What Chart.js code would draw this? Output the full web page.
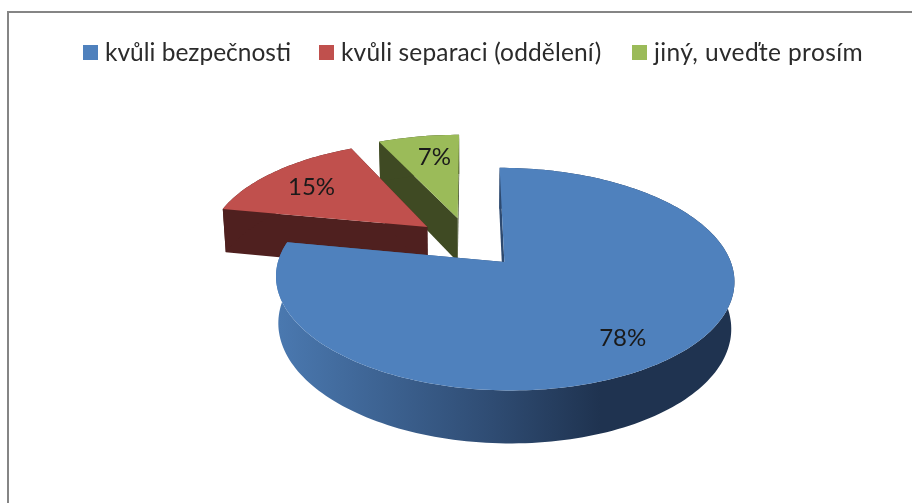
<!DOCTYPE html>
<html>
<head>
<meta charset="utf-8">
<script src="https://cdn.jsdelivr.net/npm/chart.js@4"></script>
<style>
  html, body { margin: 0; padding: 0; background: #fff; }
  #wrap { position: relative; width: 912px; height: 503px; overflow: hidden; filter: blur(0.4px); }
  #frame { position: absolute; left: 7px; top: 11px; width: 910px; height: 500px; border-left: 2px solid #858585; border-top: 2px solid #858585; }
  #legend { font: 24.5px Lato, sans-serif; color: #2b2b2b; }
  #legend .item { position: absolute; top: 37px; display: flex; align-items: center; line-height: 30px; white-space: nowrap; }
  #legend i { display: block; width: 15px; height: 15px; margin-right: 7px; }
  canvas { position: absolute; left: 0; top: 0; }
</style>
</head>
<body>
<div id="wrap">
  <canvas id="pie" width="912" height="503"></canvas>
  <div id="frame"></div>
  <div id="legend"></div>
</div>
<script>
  const categories = ['kvůli bezpečnosti', 'kvůli separaci (oddělení)', 'jiný, uveďte prosím'];
  const values = [78, 15, 7];
  const topColors = ['#4F81BD', '#C0504D', '#9BBB59'];
  const sideColors = ['#1F3350', '#4F201F', '#3F4A23'];

  // tilted pie: flat unit-circle coords -> screen, with perspective
  const CX = 469, CY = 242, RX = 220, RY = 102.6, PERSP = 0.15, DEPTH = 45, SHRINK = 0.012, EXPLODE = 0.245;
  // legend x and tracking, Lato runs narrower than the original font on the last item
  const legendX = [83, 319, 632];
  const legendTrack = [0, 0.15, 0.37];
  const labelShift = [[-4, 7], [1, 3], [7, 2]];

  function project(u, v, z) {
    const s = 1 / (1 - PERSP * v), k = 1 - SHRINK * z;
    return [CX + RX * u * s * k, CY + RY * v * s * k + z * DEPTH * s];
  }

  function tracePath(ctx, pts) {
    ctx.beginPath();
    pts.forEach((p, i) => i ? ctx.lineTo(p[0], p[1]) : ctx.moveTo(p[0], p[1]));
    ctx.closePath();
  }

  const pie3d = {
    id: 'pie3d',
    beforeDatasetsDraw(chart) {
      const ctx = chart.ctx;
      const arcs = chart.getDatasetMeta(0).data;
      // back slices first, the big one goes on top
      for (let i = arcs.length - 1; i >= 0; i--) {
        const a = arcs[i];
        const mid = (a.startAngle + a.endAngle) / 2;
        const ax = Math.cos(mid) * EXPLODE, ay = Math.sin(mid) * EXPLODE;
        const rim = [];
        const steps = Math.ceil((a.endAngle - a.startAngle) * 40);
        for (let n = 0; n <= steps; n++) {
          const t = a.startAngle + (a.endAngle - a.startAngle) * n / steps;
          rim.push([ax + Math.cos(t), ay + Math.sin(t)]);
        }
        const first = rim[0], last = rim[rim.length - 1];

        let side = sideColors[i];
        if (i === 0) {
          side = ctx.createLinearGradient(280, 0, 600, 0);
          side.addColorStop(0, '#4A78AF');
          side.addColorStop(0.66, '#2F4C73');
          side.addColorStop(1, '#1F3350');
        }
        ctx.fillStyle = side;

        // the two cut faces
        [first, last].forEach(p => {
          tracePath(ctx, [project(ax, ay, 0), project(p[0], p[1], 0), project(p[0], p[1], 1), project(ax, ay, 1)]);
          ctx.fill();
        });
        // outer wall
        tracePath(ctx, rim.map(p => project(p[0], p[1], 0)).concat(rim.slice().reverse().map(p => project(p[0], p[1], 1))));
        ctx.fill();

        // top face
        tracePath(ctx, [project(ax, ay, 0)].concat(rim.map(p => project(p[0], p[1], 0))));
        ctx.fillStyle = topColors[i];
        ctx.fill();
      }

      // percent labels
      ctx.font = '24px Lato, sans-serif';
      ctx.fillStyle = '#1a1a1a';
      ctx.textAlign = 'center';
      ctx.textBaseline = 'middle';
      const total = values.reduce((x, y) => x + y, 0);
      arcs.forEach((a, i) => {
        const mid = (a.startAngle + a.endAngle) / 2;
        const f = EXPLODE + 0.75;
        const p = project(Math.cos(mid) * f, Math.sin(mid) * f, 0);
        ctx.fillText(Math.round(values[i] / total * 100) + '%', p[0] + labelShift[i][0], p[1] + labelShift[i][1]);
      });
      return false;
    }
  };

  new Chart(document.getElementById('pie'), {
    type: 'pie',
    data: { labels: categories, datasets: [{ data: values, backgroundColor: topColors, borderWidth: 0 }] },
    options: {
      responsive: false,
      animation: false,
      plugins: { legend: { display: false }, tooltip: { enabled: false } }
    },
    plugins: [pie3d]
  });

  document.getElementById('legend').innerHTML = categories.map((c, i) =>
    `<div class="item" style="left:${legendX[i]}px;letter-spacing:${legendTrack[i]}px"><i style="background:${topColors[i]}"></i>${c}</div>`).join('');
</script>
</body>
</html>
